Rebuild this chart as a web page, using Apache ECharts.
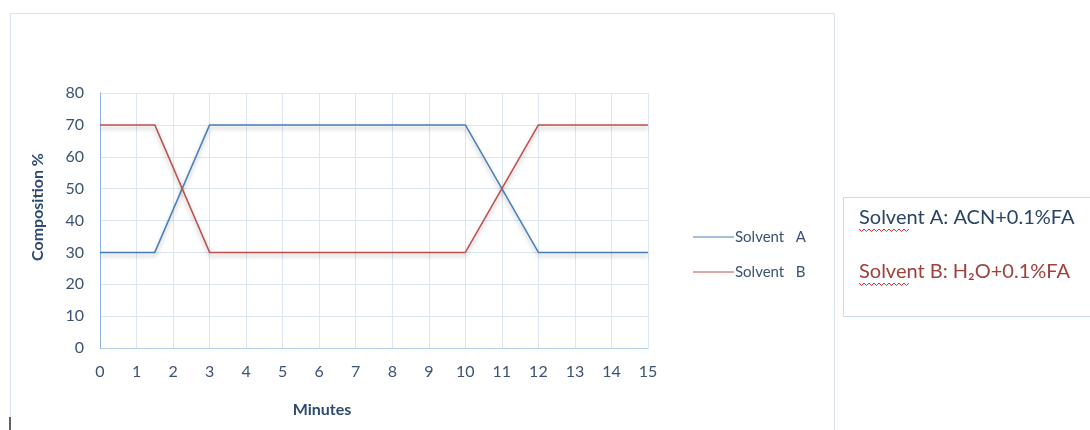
<!DOCTYPE html>
<html>
<head>
<meta charset="utf-8">
<script src="https://cdn.jsdelivr.net/npm/echarts@6/dist/echarts.min.js"></script>
<style>
  html, body { margin: 0; padding: 0; background: #ffffff; }
  #chart { width: 1090px; height: 430px; }
</style>
</head>
<body>
<div id="chart"></div>
<script>
// Gradient program: time (min) vs. mobile-phase composition (%)
const minutes = [0, 1.5, 3, 10, 12, 15];
const solventA = [30, 30, 70, 70, 30, 30];
const solventB = [70, 70, 30, 30, 70, 70];
const seriesNames = ['Solvent   A', 'Solvent   B'];
const xTitle = 'Minutes';
const yTitle = 'Composition %';
const noteLines = ['Solvent A: ACN+0.1%FA', 'Solvent B: H\u2082O+0.1%FA'];

const FONT = 'Lato, "Open Sans", sans-serif';
const AXIS_TEXT = '#3B5273';
const TITLE_TEXT = '#2E4A70';
const GRID_COLOR = '#DAE6F4';
const BLUE = '#4A7EBB';
const RED = '#C0504D';

function pairs(xs, ys) { return xs.map((x, i) => [x, ys[i]]); }

// red spell-check style squiggle under a word
function squiggle(x0, x1, y) {
  const pts = [];
  let up = true;
  for (let x = x0; x <= x1; x += 2.5) { pts.push([x, up ? y : y + 2.5]); up = !up; }
  return {
    type: 'polyline', silent: true,
    shape: { points: pts },
    style: { stroke: '#E8302A', lineWidth: 1, fill: null }
  };
}

const chart = echarts.init(document.getElementById('chart'), null, { renderer: 'canvas' });

const lineShadow = {
  shadowColor: 'rgba(0,0,0,0.28)', shadowBlur: 4, shadowOffsetY: 3
};

chart.setOption({
  animation: false,
  backgroundColor: '#ffffff',
  grid: { left: 100, right: 1090 - 648, top: 93, bottom: 430 - 348, containLabel: false },
  xAxis: {
    type: 'value', min: 0, max: 15, interval: 1,
    axisLine: { show: true, lineStyle: { color: '#B4CDEA', width: 1 } },
    axisTick: { show: false },
    axisLabel: { color: AXIS_TEXT, fontFamily: FONT, fontSize: 16, margin: 16 },
    splitLine: { show: true, lineStyle: { color: GRID_COLOR, width: 1 } }
  },
  yAxis: {
    type: 'value', min: 0, max: 80, interval: 10,
    axisLine: { show: true, lineStyle: { color: '#8EB4E3', width: 1 } },
    axisTick: { show: false },
    axisLabel: { color: AXIS_TEXT, fontFamily: FONT, fontSize: 16, margin: 16 },
    splitLine: { show: true, lineStyle: { color: GRID_COLOR, width: 1 } }
  },
  legend: {
    orient: 'vertical', left: 688, top: 224, itemGap: 19,
    itemWidth: 41, itemHeight: 1.2,
    icon: 'rect',
    textStyle: { color: AXIS_TEXT, fontFamily: FONT, fontSize: 15, padding: [0, 0, 0, -4], lineHeight: 16 },
    data: seriesNames
  },
  series: [
    {
      name: seriesNames[0], type: 'line', data: pairs(minutes, solventA),
      symbol: 'none', itemStyle: { color: BLUE },
      lineStyle: Object.assign({ color: BLUE, width: 1.5 }, lineShadow)
    },
    {
      name: seriesNames[1], type: 'line', data: pairs(minutes, solventB),
      symbol: 'none', itemStyle: { color: RED },
      lineStyle: Object.assign({ color: RED, width: 1.5 }, lineShadow)
    }
  ],
  graphic: [
    // outer chart frame
    { type: 'rect', silent: true, z: -1,
      shape: { x: 10.5, y: 13.5, width: 824, height: 430 },
      style: { fill: null, stroke: '#D5E3F2', lineWidth: 1 } },
    // axis titles
    { type: 'text', silent: true, x: 322, y: 410,
      style: { text: xTitle, fill: TITLE_TEXT, font: 'bold 16px ' + FONT, align: 'center', verticalAlign: 'middle' } },
    { type: 'text', silent: true, x: 38, y: 207, rotation: Math.PI / 2,
      style: { text: yTitle, fill: TITLE_TEXT, font: 'bold 16px ' + FONT, align: 'center', verticalAlign: 'middle' } },
    // notes box
    { type: 'rect', silent: true,
      shape: { x: 843.5, y: 197.5, width: 260, height: 119 },
      style: { fill: '#ffffff', stroke: '#C9DBF0', lineWidth: 1 } },
    { type: 'text', silent: true, x: 859, y: 218,
      style: { text: noteLines[0], fill: '#2A4466', font: '20px ' + FONT, verticalAlign: 'middle' } },
    { type: 'text', silent: true, x: 859, y: 272,
      style: { text: noteLines[1], fill: '#A0403D', font: '20px ' + FONT, verticalAlign: 'middle' } },
    squiggle(859, 911, 229),
    squiggle(859, 911, 283),
    // text cursor at the lower left
    { type: 'rect', silent: true,
      shape: { x: 9, y: 417, width: 2, height: 13 },
      style: { fill: '#6B6158' } }
  ]
});
</script>
</body>
</html>
